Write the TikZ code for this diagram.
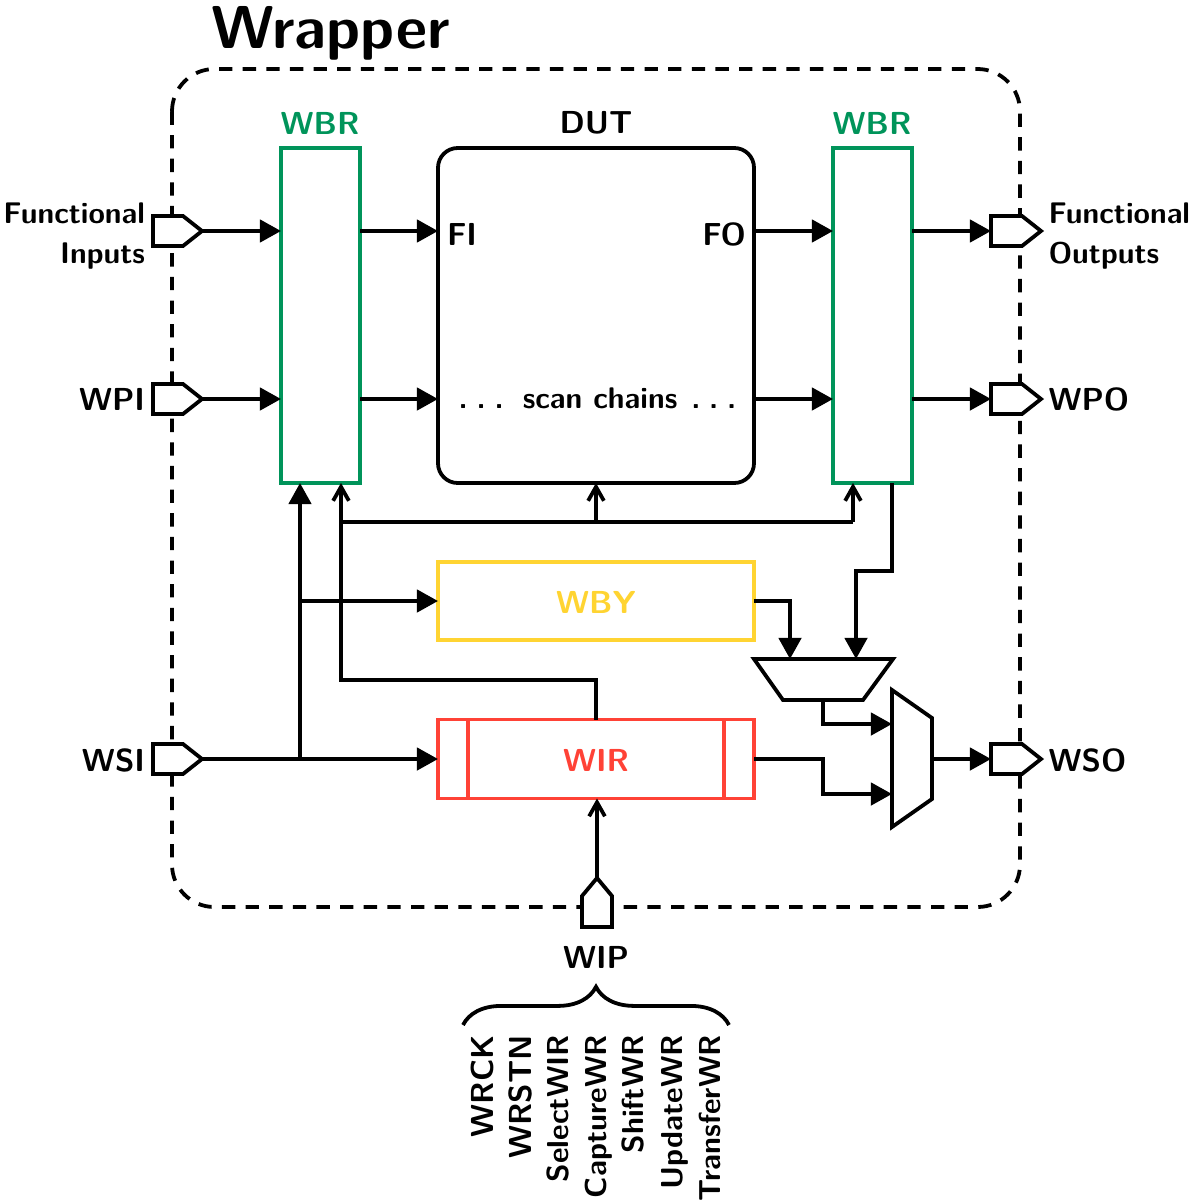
\documentclass[tikz,border=0pt]{standalone}
\usepackage{fontspec}
\usetikzlibrary{arrows.meta,decorations.pathreplacing,calc}
\definecolor{wgreen}{RGB}{0,148,90}
\definecolor{wyellow}{RGB}{255,212,50}
\definecolor{wred}{RGB}{255,66,54}
\newcommand{\pxu}{0.33pt}
\newcommand{\capf}{\fontsize{10.5}{12.6}\sffamily\bfseries\selectfont}
\newcommand{\mixf}{\fontsize{9.85}{12}\sffamily\bfseries\selectfont}
\newcommand{\sigf}{\fontsize{10}{12}\sffamily\bfseries\selectfont}
\tikzset{
  x=\pxu, y=-\pxu,
  every node/.style={font=\capf, inner sep=0pt, outer sep=0pt},
  mixlab/.style={font=\mixf},
  siglab/.style={font=\sigf, rotate=90, anchor=base east},
  sigcap/.style={font=\capf, rotate=90, anchor=base east},
  wire/.style={line width=1.25pt, -{Triangle[length=7pt,width=7.4pt]}},
  plain/.style={line width=1.25pt},
  ctl/.style={line width=1.25pt, -{Straight Barb[length=4.6pt,width=5.2pt,line width=1.25pt]}},
  boxed/.style={draw, line width=1.25pt, fill=white},
  regbox/.style={draw=#1, line width=1.25pt, rectangle, anchor=north west},
  port/.style={draw, line width=1.25pt, fill=white, line join=miter},
}
\begin{document}
\begin{tikzpicture}
\useasboundingbox (0,0) rectangle (1194,1202);
% wrapper
\draw[line width=1.25pt, dash pattern=on 4.4pt off 3.4pt, rounded corners=14pt] (172,69) rectangle (1020,907);
\node[anchor=base west, font=\fontsize{20}{24}\sffamily\bfseries\selectfont] (title) at (211,48) {Wrapper};

% boxes
\node[regbox=wgreen, minimum width=79*\pxu, minimum height=335*\pxu] (wbrA) at (281,148) {};
\node[regbox=wgreen, minimum width=79*\pxu, minimum height=335*\pxu] (wbrB) at (833,148) {};
\node[draw, rectangle, rounded corners=6.5pt, line width=1.25pt, anchor=north west, minimum width=316*\pxu, minimum height=335*\pxu] (dut) at (438,148) {};
\node[regbox=wyellow, minimum width=316*\pxu, minimum height=78*\pxu] (wby) at (438,562) {};
\node[regbox=wred, minimum width=316*\pxu, minimum height=79*\pxu] (wir) at (438,719.5) {};
\draw[wred, line width=1.25pt] (468,719.5) -- (468,798.5) (724,719.5) -- (724,798.5);

% labels
\node[text=wgreen] (lwbrA) at (320,123) {WBR};
\node[text=wgreen] (lwbrB) at (872,123) {WBR};
\node (ldut) at (596,123) {DUT};
\node[text=wyellow] (lwby) at (596,602) {WBY};
\node[text=wred] (lwir) at (596,760) {WIR};
\node[anchor=west] (lfi) at (447,234) {FI};
\node[anchor=east] (lfo) at (746,234) {FO};
\node[mixlab, anchor=base] (lscan) at (597.5,408) {.\hspace{2.9pt}.\hspace{2.9pt}.\hspace{6.3pt}scan chains\hspace{4.6pt}.\hspace{2.9pt}.\hspace{2.9pt}.};

% ports
\foreach \n/\yy in {pfi/231,pwpi/399,pwsi/759}{
  \draw[port] (153,\yy-15) -- (183,\yy-15) -- (202,\yy) -- (183,\yy+15) -- (153,\yy+15) -- cycle;
  \coordinate (\n) at (202,\yy);
}
\foreach \n/\yy in {pfo/231,pwpo/399,pwso/759}{
  \draw[port] (991,\yy-15) -- (1022,\yy-15) -- (1041,\yy) -- (1022,\yy+15) -- (991,\yy+15) -- cycle;
  \coordinate (\n) at (991,\yy);
}
\draw[port] (582,927) -- (582,896) -- (597,878) -- (612,896) -- (612,927) -- cycle;
\coordinate (pwip) at (597,878);

% port labels
\node[mixlab, anchor=east, align=right] (lfuncin) at (145,236) {Functional\\[1.2pt]Inputs};
\node[mixlab, anchor=west, align=left] (lfuncout) at (1048.5,236) {Functional\\[1.2pt]Outputs};
\node[anchor=east] (lwpi) at (145,399) {WPI};
\node[anchor=west] (lwpo) at (1048.5,399) {WPO};
\node[anchor=east] (lwsi) at (145,760) {WSI};
\node[anchor=west] (lwso) at (1048.5,760) {WSO};
\node (lwip) at (596,957) {WIP};

% muxes
\draw[boxed] (754,659) -- (893,659) -- (863,700) -- (783,700) -- cycle;
\coordinate (muxa1) at (790,659);
\coordinate (muxa2) at (856,659);
\coordinate (muxaout) at (823,700);
\draw[boxed] (892,690) -- (932,718) -- (932,799) -- (892,827) -- cycle;
\coordinate (muxb1) at (892,724);
\coordinate (muxb2) at (892,794);
\coordinate (muxbout) at (932,759);

% functional arrows
\draw[wire] (pfi) -- (pfi -| wbrA.west);
\draw[wire] (pwpi) -- (pwpi -| wbrA.west);
\coordinate (ya) at (0,231);
\coordinate (yb) at (0,399);
\draw[wire] (ya -| wbrA.east) -- (ya -| dut.west);
\draw[wire] (yb -| wbrA.east) -- (yb -| dut.west);
\draw[wire] (ya -| dut.east) -- (ya -| wbrB.west);
\draw[wire] (yb -| dut.east) -- (yb -| wbrB.west);
\draw[wire] (ya -| wbrB.east) -- (pfo);
\draw[wire] (yb -| wbrB.east) -- (pwpo);

% WSI
\coordinate (wsibr) at (300,759);
\draw[wire] (pwsi) -- (pwsi -| wir.west);
\draw[wire] (wsibr) -- (wsibr |- wbrA.south);
\coordinate (wbyin) at (300,601);
\draw[wire] (wbyin) -- (wbyin -| wby.west);

% control
\coordinate (cbus) at (341,522);
\draw[ctl] (wir.north) -- (wir.north |- 0,680) -- (341,680) -- (cbus |- wbrA.south);
\draw[plain] (cbus) -- (853,522);
\coordinate (dutc) at (596,522);
\draw[ctl] (dutc) -- (dutc |- dut.south);
\coordinate (wbrBin) at (853,522);
\draw[ctl] (wbrBin) -- (wbrBin |- wbrB.south);
\draw[ctl] (pwip) -- (pwip |- wir.south);

% to mux
\draw[wire] (wby.east) -| (muxa1);
\draw[wire] (892,483) -- (892,571) -- (856,571) -- (muxa2);
\draw[wire] (muxaout) |- (muxb1);
\draw[wire] (wir.east) -- ($(wir.east)+(69,0)$) |- (muxb2);
\draw[wire] (muxbout) -- (pwso);

% brace
\coordinate (bl) at (463,1025);
\coordinate (br) at (729,1025);
\draw[plain, decorate, decoration={brace, amplitude=12.6pt}] (bl) -- (br);

% signals
\foreach \n/\xx/\t in {sa/493/WRCK,sb/531/WRSTN}{
  \node[sigcap] (\n) at (\xx,1035) {\t};
}
\foreach \n/\xx/\t in {sc/568/SelectWIR,sd/606/CaptureWR,se/643/ShiftWR,sf/682/UpdateWR,sg/720/TransferWR}{
  \node[siglab] (\n) at (\xx,1035) {\t};
}
\end{tikzpicture}
\end{document}
